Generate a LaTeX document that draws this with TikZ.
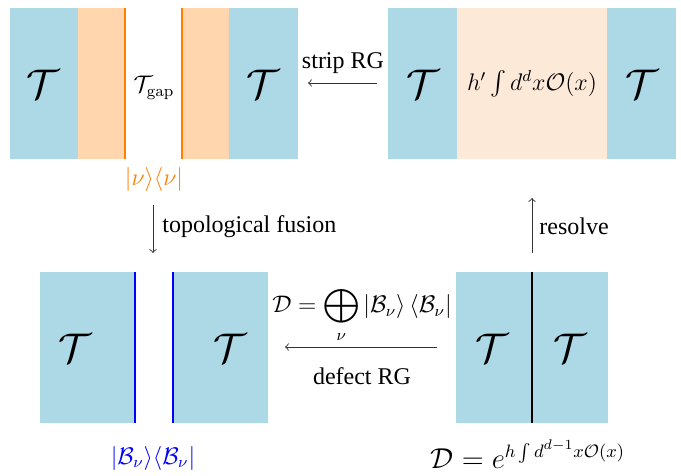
\documentclass[tikz,border=0pt]{standalone}
\usepackage[no-math]{fontspec}
\setmainfont{Liberation Serif}
\usepackage{amsmath}
\definecolor{lb}{RGB}{173,216,230}
\definecolor{peach}{RGB}{255,214,174}
\definecolor{lpeach}{RGB}{253,233,216}
\definecolor{org}{RGB}{255,128,0}
\begin{document}
\begin{tikzpicture}[x=0.5pt,y=-0.5pt,
  panel/.style={draw=none,inner sep=0pt,minimum height=75.5pt,anchor=north west},
  bigT/.style={inner sep=0pt,font=\fontsize{21}{24}\selectfont},
  lbl/.style={inner sep=0pt,font=\fontsize{12}{14}\selectfont},
  wall/.style={line width=1pt},
  arr/.style={->,black!80,line width=0.45pt}]
\useasboundingbox (0,0) rectangle (681,476);
% top-left panel
\node[panel,fill=lb,minimum width=34pt] (tl1) at (10,8) {};
\node[panel,fill=peach,minimum width=23.5pt] (tl2) at (78,8) {};
\node[panel,fill=peach,minimum width=23.5pt] (tl4) at (182,8) {};
\node[panel,fill=lb,minimum width=34.5pt] (tl5) at (229,8) {};
\draw[wall,org] (125,8) coordinate (o1t) -- (125,159) coordinate (o1b);
\draw[wall,org] (182,8) coordinate (o2t) -- (182,159) coordinate (o2b);
\node[bigT] (tlT1) at (43,84) {$\mathcal{T}$};
\node[bigT] (tlT2) at (263,84) {$\mathcal{T}$};
\node[lbl] (tgap) at (154,88) {$\mathcal{T}_{\mathrm{gap}}$};
\node[lbl,text=org] (nu) at (154,180) {$|\nu\rangle\langle\nu|$};
% top-right panel
\node[panel,fill=lb,minimum width=34.5pt] (tr1) at (388,8) {};
\node[panel,fill=lpeach,minimum width=75pt] (tr2) at (457,8) {};
\node[panel,fill=lb,minimum width=34.5pt] (tr3) at (607,8) {};
\node[bigT] (trT1) at (423,84) {$\mathcal{T}$};
\node[bigT] (trT2) at (642,84) {$\mathcal{T}$};
\node[lbl] (hint) at (532,84) {$h'\int d^dx\mathcal{O}(x)$};
% bottom-left panel
\node[panel,fill=lb,minimum width=47.5pt] (bl1) at (40,272) {};
\node[panel,fill=lb,minimum width=47.5pt] (bl2) at (173,272) {};
\draw[wall,blue] (135,272) coordinate (b1t) -- (135,423) coordinate (b1b);
\draw[wall,blue] (173,272) coordinate (b2t) -- (173,423) coordinate (b2b);
\node[bigT] (blT1) at (75,348) {$\mathcal{T}$};
\node[bigT] (blT2) at (230,348) {$\mathcal{T}$};
\node[lbl,text=blue] (bnu) at (153,458) {$|\mathcal{B}_\nu\rangle\langle\mathcal{B}_\nu|$};
% bottom-right panel
\node[panel,fill=lb,minimum width=76pt] (br) at (456,272) {};
\draw[wall,black] (532,272) coordinate (dt) -- (532,423) coordinate (db);
\node[bigT] (brT1) at (492,348) {$\mathcal{T}$};
\node[bigT] (brT2) at (570,348) {$\mathcal{T}$};
\node[inner sep=0pt,font=\fontsize{13.4}{16}\selectfont,anchor=base] (dexp) at (528,468) {$\mathcal{D}=e^{h\int d^{d-1}x\mathcal{O}(x)}$};
% arrows
\coordinate (s1) at (377,83); \coordinate (s2) at (308,83);
\draw[arr] (s1) -- (s2);
\node[lbl] (stripl) at (343,63) {strip RG};
\coordinate (f1) at (153,205); \coordinate (f2) at (153,253);
\draw[arr] (f1) -- (f2);
\node[lbl,anchor=west] (fusl) at (162,227) {topological fusion};
\coordinate (r1) at (532,253); \coordinate (r2) at (532,198);
\draw[arr] (r1) -- (r2);
\node[lbl,anchor=west] (resl) at (539,226) {resolve};
\coordinate (d1) at (437,347); \coordinate (d2) at (285,347);
\draw[arr] (d1) -- (d2);
\node[lbl,anchor=south] (dsum) at (362,343) {$\displaystyle\mathcal{D}=\bigoplus_\nu|\mathcal{B}_\nu\rangle\,\langle\mathcal{B}_\nu|$};
\node[lbl] (defl) at (362,376) {defect RG};
\end{tikzpicture}
\end{document}
